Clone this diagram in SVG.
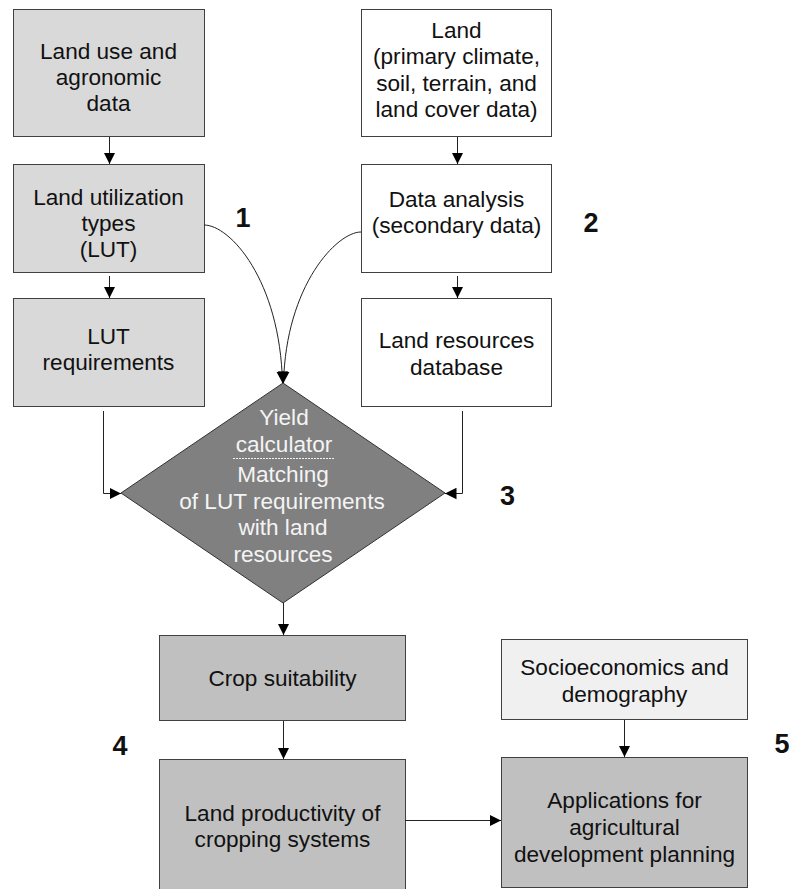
<svg xmlns="http://www.w3.org/2000/svg" width="793" height="889" viewBox="0 0 793 889">
<style>
.box{stroke:#404040;stroke-width:1}
.lg{fill:#d9d9d9}
.wh{fill:#ffffff}
.mg{fill:#c0c0c0}
.xl{fill:#f0f0f0}
.t{font-family:"Liberation Sans",Arial,sans-serif;font-size:22.6px;fill:#111;text-anchor:middle}
.tw{font-family:"Liberation Sans",Arial,sans-serif;font-size:22.6px;fill:#f4f4f4;text-anchor:middle}
.num{font-family:"Liberation Sans",Arial,sans-serif;font-size:27px;font-weight:bold;fill:#111;text-anchor:middle}
.con{fill:none;stroke:#222;stroke-width:1;marker-end:url(#ah)}
</style>
<defs>
<marker id="ah" viewBox="0 0 10 10" refX="10" refY="5" markerWidth="11.5" markerHeight="12" markerUnits="userSpaceOnUse" orient="auto">
<path d="M0,0 L10,5 L0,10 z" fill="#000"/>
</marker>
</defs>
<rect width="793" height="889" fill="#ffffff"/>

<g id="landuse">
<rect class="box lg" x="13.5" y="9.5" width="191" height="127"/>
<text class="t" x="108.5" y="59">Land use and</text>
<text class="t" x="108.5" y="85">agronomic</text>
<text class="t" x="108.5" y="111">data</text>
</g>
<g id="lut">
<rect class="box lg" x="13.5" y="164.5" width="191" height="108"/>
<text class="t" x="108.5" y="205">Land utilization</text>
<text class="t" x="108.5" y="231">types</text>
<text class="t" x="108.5" y="257">(LUT)</text>
</g>
<g id="lutreq">
<rect class="box lg" x="13.5" y="298.5" width="191" height="108"/>
<text class="t" x="108.5" y="344">LUT</text>
<text class="t" x="108.5" y="370">requirements</text>
</g>
<g id="land">
<rect class="box wh" x="361.5" y="9.5" width="190" height="127"/>
<text class="t" x="456.5" y="38">Land</text>
<text class="t" x="456.5" y="64">(primary climate,</text>
<text class="t" x="456.5" y="90.5">soil, terrain, and</text>
<text class="t" x="456.5" y="116.5">land cover data)</text>
</g>
<g id="analysis">
<rect class="box wh" x="361.5" y="164.5" width="190" height="108"/>
<text class="t" x="456.5" y="207">Data analysis</text>
<text class="t" x="456.5" y="233">(secondary data)</text>
</g>
<g id="database">
<rect class="box wh" x="361.5" y="298.5" width="190" height="108"/>
<text class="t" x="456.5" y="348">Land resources</text>
<text class="t" x="456.5" y="375">database</text>
</g>
<g id="yield">
<polygon points="283,383 445,493 283,603 121,493" fill="#808080" stroke="#333" stroke-width="1"/>
<text class="tw" x="284" y="425">Yield</text>
<text class="tw" x="284" y="452">calculator</text>
<line x1="233" y1="458.5" x2="335" y2="458.5" stroke="#f4f4f4" stroke-width="1" stroke-dasharray="2,1"/>
<text class="tw" x="283" y="482">Matching</text>
<text class="tw" x="282" y="509">of LUT requirements</text>
<text class="tw" x="283" y="535">with land</text>
<text class="tw" x="283" y="562">resources</text>
</g>
<g id="crop">
<rect class="box mg" x="159.5" y="635.5" width="246" height="85"/>
<text class="t" x="282.5" y="686">Crop suitability</text>
</g>
<g id="productivity">
<rect class="box mg" x="159.5" y="759.5" width="246" height="140"/>
<text class="t" x="282.5" y="821">Land productivity of</text>
<text class="t" x="282.5" y="847">cropping systems</text>
</g>
<g id="socio">
<rect class="box xl" x="501.5" y="639.5" width="246" height="80"/>
<text class="t" x="624.5" y="675">Socioeconomics and</text>
<text class="t" x="624.5" y="702">demography</text>
</g>
<g id="applications">
<rect class="box mg" x="501.5" y="757.5" width="246" height="130"/>
<text class="t" x="624.5" y="808">Applications for</text>
<text class="t" x="624.5" y="835">agricultural</text>
<text class="t" x="624.5" y="862">development planning</text>
</g>
<g id="labels">
<text class="num" x="243" y="227">1</text>
<text class="num" x="591" y="232">2</text>
<text class="num" x="507.5" y="505">3</text>
<text class="num" x="120" y="755">4</text>
<text class="num" x="782" y="753">5</text>
</g>
<g id="connectors">
<path class="con" d="M109.5,137 V164"/>
<path class="con" d="M109.5,276 V298"/>
<path class="con" d="M457.5,137 V164"/>
<path class="con" d="M457.5,276 V298"/>
<path class="con" d="M103.5,411 V493.5 H121"/>
<path class="con" d="M462.5,411 V493.5 H445"/>
<path class="con" d="M204,225 C230,225 280,280 282.5,383"/>
<path class="con" d="M361,232 C337,232 286,285 283.5,383"/>
<path class="con" d="M283.5,603 V635"/>
<path class="con" d="M283.5,721 V759"/>
<path class="con" d="M624.5,720 V757"/>
<path class="con" d="M405,820.5 H501"/>
</g>
</svg>
